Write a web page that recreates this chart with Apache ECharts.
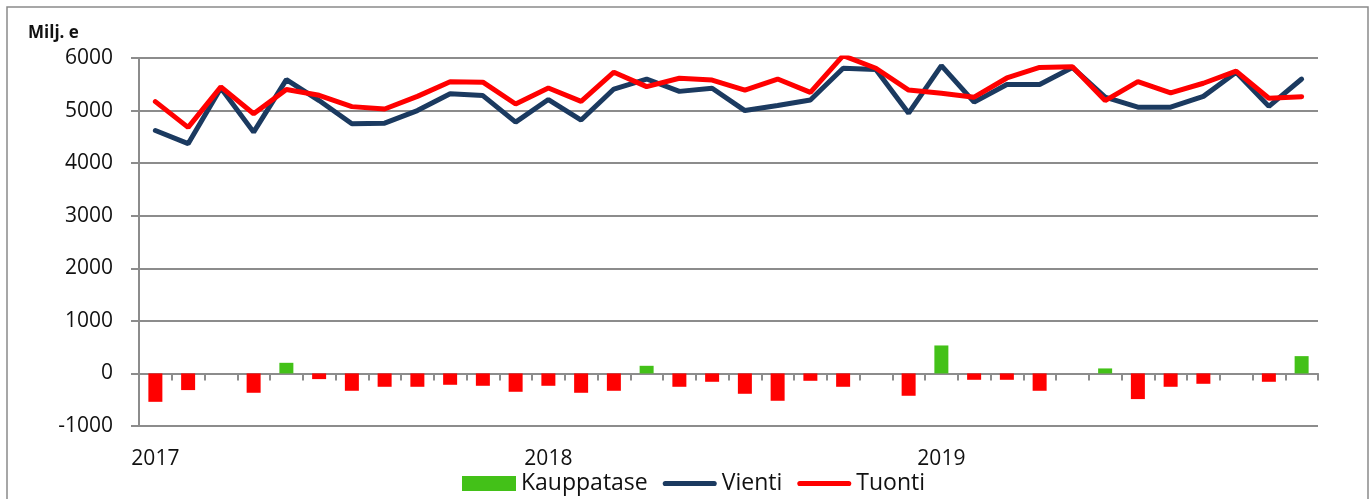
<!DOCTYPE html>
<html>
<head>
<meta charset="utf-8">
<script src="https://cdn.jsdelivr.net/npm/echarts@6/dist/echarts.min.js"></script>
<style>
  html, body { margin: 0; padding: 0; background: #fff; }
  #chart { width: 1371px; height: 499px; }
</style>
</head>
<body>
<div id="chart"></div>
<script>
"use strict";
// monthly, Jan 2017 .. Dec 2019
const years = ["2017", "2018", "2019"];
const months = years.flatMap((y) => Array.from({ length: 12 }, (_, m) => `${y}/${String(m + 1).padStart(2, "0")}`));

const vienti = [4620, 4370, 5430, 4590, 5590, 5190, 4750, 4760, 5000, 5320, 5285, 4780,
                5210, 4820, 5410, 5600, 5365, 5425, 5000, 5095, 5200, 5805, 5780, 4950,
                5855, 5160, 5495, 5495, 5820, 5255, 5065, 5065, 5270, 5730, 5080, 5600];
const tuonti = [5170, 4680, 5450, 4940, 5400, 5290, 5075, 5030, 5270, 5550, 5540, 5125,
                5430, 5175, 5730, 5455, 5615, 5580, 5390, 5600, 5345, 6045, 5805, 5390,
                5330, 5255, 5620, 5820, 5835, 5190, 5550, 5335, 5520, 5750, 5235, 5265];
const kauppatase = [-540, -317, 0, -368, 202, -108, -330, -254, -254, -216, -235, -349,
                    -235, -368, -330, 145, -254, -159, -387, -520, -140, -254, 0, -425,
                    532, -121, -121, -330, 0, 95, -488, -254, -197, 0, -159, 329];

const C = { green: "#43C118", red: "#FF0000", navy: "#1B3A60", grid: "#8C8C8C", text: "#111" };
const FONT = "'Open Sans', 'Noto Sans', sans-serif";
const LINE_ICON = "path://M3,0 L51,0 A2.5,2.5 0 0 1 51,5 L3,5 A2.5,2.5 0 0 1 3,0 Z";

const chart = echarts.init(document.getElementById("chart"), null, { renderer: "canvas" });
chart.setOption({
  animation: false,
  backgroundColor: "#fff",
  textStyle: { fontFamily: FONT, color: C.text },
  graphic: [{ type: "rect", shape: { x: 7, y: 7, width: 1361, height: 500 },
              style: { fill: "none", stroke: "#8a8a8a", lineWidth: 1.5 }, silent: true }],
  title: { text: "Milj. e", left: 23, top: 20,
           textStyle: { fontFamily: FONT, fontSize: 17, fontWeight: "bold", color: C.text } },
  grid: { left: 139, right: 53, top: 58, bottom: 73, containLabel: false, outerBoundsMode: "none" },
  legend: {
    bottom: -1, left: 457, itemWidth: 54, itemHeight: 15, itemGap: 15,
    textStyle: { fontFamily: FONT, fontSize: 23, color: C.text },
    data: [{ name: "Kauppatase", icon: "rect" },
           { name: "Vienti", icon: LINE_ICON },
           { name: "Tuonti", icon: LINE_ICON }]
  },
  xAxis: {
    type: "category", data: months, boundaryGap: true,
    axisLine: { onZero: true, lineStyle: { color: C.grid, width: 2 } },
    axisTick: { show: true, interval: 0, length: 7, lineStyle: { color: C.grid, width: 2 } },
    axisLabel: { interval: (i) => i % 12 === 0, formatter: (v) => v.slice(0, 4),
                 margin: 23, fontSize: 21, color: C.text, fontFamily: FONT },
    splitLine: { show: false }
  },
  yAxis: {
    type: "value", min: -1000, max: 6000, interval: 1000,
    axisLine: { show: true, lineStyle: { color: C.grid, width: 2 } },
    axisTick: { show: true, length: 8, lineStyle: { color: C.grid, width: 2 } },
    axisLabel: { margin: 26, fontSize: 21, color: C.text, fontFamily: FONT, formatter: (v) => String(v) },
    splitLine: { lineStyle: { color: C.grid, width: 2 } }
  },
  series: [
    { name: "Kauppatase", type: "bar", barWidth: 14,
      itemStyle: { color: C.green },
      data: kauppatase.map((v) => ({ value: v, itemStyle: { color: v < 0 ? C.red : C.green } })) },
    { name: "Vienti", type: "line", data: vienti, symbol: "none",
      lineStyle: { color: C.navy, width: 5, cap: "round" }, itemStyle: { color: C.navy } },
    { name: "Tuonti", type: "line", data: tuonti, symbol: "none",
      lineStyle: { color: C.red, width: 5, cap: "round" }, itemStyle: { color: C.red } }
  ]
});
</script>
</body>
</html>
